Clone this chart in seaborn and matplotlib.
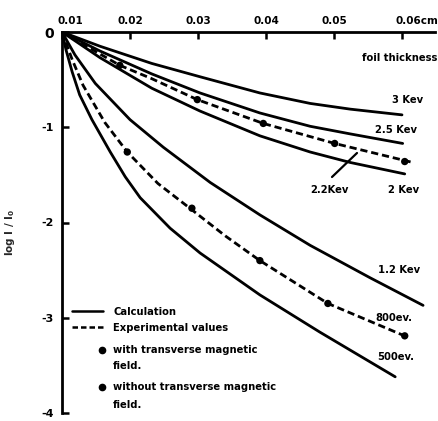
import matplotlib
matplotlib.use("Agg")
import matplotlib.pyplot as plt
import matplotlib.transforms as mtrans
from matplotlib.lines import Line2D
import pandas as pd
import seaborn as sns

sns.set_theme(style="white")
plt.rcParams['font.family'] = ['DejaVu Sans']

# ---- data (foil thickness in cm, log I/I0) ----
x_3kev = [0.0100, 0.0156, 0.0232, 0.0303, 0.0391, 0.0465, 0.0524, 0.0600]
y_3kev = [0.00, -0.15, -0.33, -0.47, -0.64, -0.75, -0.81, -0.87]

x_25kev = [0.0100, 0.0156, 0.0232, 0.0303, 0.0391, 0.0465, 0.0524, 0.0601]
y_25kev = [0.00, -0.20, -0.44, -0.64, -0.85, -0.99, -1.07, -1.17]

x_2kev = [0.0100, 0.0156, 0.0232, 0.0303, 0.0391, 0.0465, 0.0524, 0.0604]
y_2kev = [0.00, -0.27, -0.59, -0.83, -1.09, -1.26, -1.37, -1.49]

x_12kev = [0.0100, 0.0119, 0.0149, 0.0200, 0.0249, 0.0318, 0.0391, 0.0465, 0.0553, 0.0631]
y_12kev = [0.00, -0.24, -0.54, -0.92, -1.21, -1.58, -1.92, -2.24, -2.58, -2.87]

x_500ev = [0.0100, 0.0106, 0.0115, 0.0126, 0.0144, 0.0171, 0.0193, 0.0215,
           0.0259, 0.0303, 0.0391, 0.0479, 0.0590]
y_500ev = [0.00, -0.19, -0.42, -0.66, -0.92, -1.26, -1.52, -1.74,
           -2.06, -2.32, -2.76, -3.15, -3.62]

# experimental (dashed) curves
x_22kev_exp = [0.0100, 0.0141, 0.0185, 0.0232, 0.0299, 0.0396, 0.0501, 0.0616]
y_22kev_exp = [0.00, -0.17, -0.35, -0.49, -0.71, -0.96, -1.17, -1.37]
x_22kev_pts = [0.0185, 0.0299, 0.0396, 0.0501, 0.0604]
y_22kev_pts = [-0.35, -0.71, -0.96, -1.17, -1.36]

x_800ev_exp = [0.0100, 0.0115, 0.0131, 0.0163, 0.0196, 0.0241, 0.0288, 0.0340,
               0.0391, 0.0491, 0.0607]
y_800ev_exp = [0.00, -0.29, -0.56, -0.95, -1.26, -1.59, -1.85, -2.14,
               -2.40, -2.85, -3.20]
x_800ev_pts = [0.0196, 0.0291, 0.0391, 0.0491, 0.0604]
y_800ev_pts = [-1.26, -1.85, -2.40, -2.85, -3.19]

x_ticks = [0.01, 0.02, 0.03, 0.04, 0.05, 0.06]
x_ticklabels = ["0.01", "0.02", "0.03", "0.04", "0.05", "0.06cm"]
y_ticks = [-4, -3, -2, -1, 0]
y_ticklabels = ["-4", "-3", "-2", "-1", "0"]

W, H = 439, 421
fig = plt.figure(figsize=(W / 100, H / 100), dpi=100)
fig.patch.set_facecolor("white")
ax = fig.add_axes([62 / W, 1 - 413 / H, (435 - 62) / W, (413 - 32) / H])
ax.set_facecolor("white")
ax.set_xlim(0.01, 0.01 + 373 / 6800)
ax.set_ylim(-4, 0)

LW = 2.0
solid = [(x_3kev, y_3kev), (x_25kev, y_25kev), (x_2kev, y_2kev),
         (x_12kev, y_12kev), (x_500ev, y_500ev)]
for xs, ys in solid:
    df = pd.DataFrame({"x": xs, "y": ys})
    sns.lineplot(data=df, x="x", y="y", ax=ax, color="black", lw=LW,
                 sort=False, estimator=None)

for xs, ys in [(x_22kev_exp, y_22kev_exp), (x_800ev_exp, y_800ev_exp)]:
    df = pd.DataFrame({"x": xs, "y": ys})
    sns.lineplot(data=df, x="x", y="y", ax=ax, color="black", lw=LW,
                 sort=False, estimator=None, linestyle=(0, (2.6, 1.4)))

for xs, ys in [(x_22kev_pts, y_22kev_pts), (x_800ev_pts, y_800ev_pts)]:
    df = pd.DataFrame({"x": xs, "y": ys})
    sns.scatterplot(data=df, x="x", y="y", ax=ax, color="black", s=28,
                    edgecolor="none", zorder=5)

# axes styling
for side in ["right", "bottom"]:
    ax.spines[side].set_visible(False)
for side in ["top", "left"]:
    ax.spines[side].set_visible(True)
    ax.spines[side].set_color("black")
    ax.spines[side].set_linewidth(2.0)

ax.xaxis.tick_top()
ax.set_xticks(x_ticks)
ax.set_xticklabels(x_ticklabels, fontsize=7.5, fontweight="bold")
ax.tick_params(axis="x", direction="in", length=5, width=1.8, pad=4,
               top=True, bottom=False, colors="black")
xl = ax.get_xticklabels()
xl[-1].set_ha("left")
xl[-1].set_transform(xl[-1].get_transform() +
                     mtrans.ScaledTranslation(-6 / 100, 0, fig.dpi_scale_trans))
xl[0].set_transform(xl[0].get_transform() +
                    mtrans.ScaledTranslation(8 / 100, 0, fig.dpi_scale_trans))

ax.set_yticks(y_ticks)
ax.set_yticklabels(y_ticklabels, fontsize=8, fontweight="bold")
ax.tick_params(axis="y", direction="in", length=5, width=1.8, pad=6,
               left=True, colors="black")
yl = ax.get_yticklabels()
yl[-1].set_fontsize(10)

ax.set_xlabel("")
ax.set_ylabel("log I / I$_\\mathbf{0}$", fontsize=7.5, fontweight="bold")
ax.yaxis.set_label_coords((17 - 62) / 373, (413 - 232) / 381)


def fx(px):
    return px / W


def fy(py):
    return 1 - py / H


def ftext(px, py, s, **kw):
    fig.text(fx(px), fy(py), s, fontsize=7.2, fontweight="bold",
             va="center", color="black", **kw)


ftext(437, 58, "foil thickness", ha="right")

# curve labels
ftext(392, 100, "3 Kev", ha="left")
ftext(375, 130, "2.5 Kev", ha="left")
ftext(310, 190, "2.2Kev", ha="left")
ftext(388, 190, "2 Kev", ha="left")
ftext(378, 270, "1.2 Kev", ha="left")
ftext(375, 318, "800ev.", ha="left")
ftext(377, 357, "500ev.", ha="left")
fig.add_artist(Line2D([fx(332), fx(357)], [fy(177), fy(153)],
                      color="black", lw=1.6))

# legend drawn by hand
fig.add_artist(Line2D([fx(72), fx(103)], [fy(311), fy(311)], color="black", lw=1.8))
ftext(113, 312, "Calculation", ha="left")
fig.add_artist(Line2D([fx(72), fx(105)], [fy(327), fy(327)], color="black",
                      lw=1.8, linestyle=(0, (2.2, 1.2))))
ftext(113, 328, "Experimental values", ha="left")
fig.add_artist(Line2D([fx(102)], [fy(350)], marker="o", markersize=4.5,
                      color="black", lw=0))
ftext(113, 350, "with transverse magnetic", ha="left")
ftext(113, 366, "field.", ha="left")
fig.add_artist(Line2D([fx(102)], [fy(387)], marker="o", markersize=4.5,
                      color="black", lw=0))
ftext(113, 387, "without transverse magnetic", ha="left")
ftext(113, 405, "field.", ha="left")

fig.savefig("out.png", dpi=100, facecolor="white")
